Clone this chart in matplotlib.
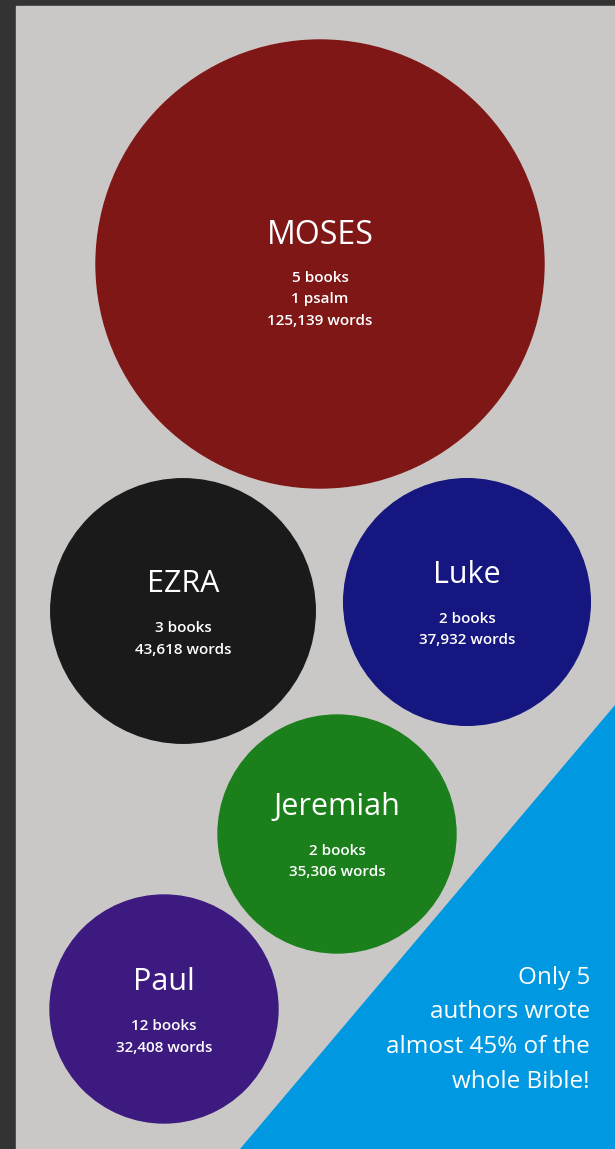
import numpy as np
import matplotlib.pyplot as plt
from matplotlib.patches import Circle, Rectangle, Polygon

plt.rcParams['font.family'] = ['Open Sans', 'DejaVu Sans']

# data
authors = ['MOSES', 'EZRA', 'Luke', 'Jeremiah', 'Paul']
details = [['5 books', '1 psalm'], ['3 books'], ['2 books'], ['2 books'], ['12 books']]
words = [125139, 43618, 37932, 35306, 32408]
colors = ['#7f1716', '#1a1a1a', '#151680', '#1b7f1b', '#3d1a80']
note = ['Only 5', 'authors wrote', 'almost 45% of the', 'whole Bible!']

# layout (pixel coords, y down)
centers = [(320, 264), (183, 611), (467, 602), (337, 834), (164, 1009)]
W, H = 615, 1149
scale = 224 / np.sqrt(words[0])  # circle area ~ word count

fig = plt.figure(figsize=(W / 100, H / 100), dpi=100, facecolor='#333333')
ax = fig.add_axes([0, 0, 1, 1])
ax.set_xlim(0, W)
ax.set_ylim(H, 0)
ax.set_aspect('equal')
ax.axis('off')

ax.add_patch(Rectangle((16, 6), W - 16, H - 6, color='#c9c8c6', zorder=0))
ax.add_patch(Polygon([(W, 705), (W, H), (240, H)], closed=True,
                     color='#0099e1', zorder=1))

for name, det, w, col, (cx, cy) in zip(authors, details, words, colors, centers):
    r = scale * np.sqrt(w)
    ax.add_patch(Circle((cx, cy), r, color=col, zorder=2))
    lines = det + [f'{w:,} words']
    n = len(lines)
    title_y = cy - 28 if n == 3 else cy - 27
    first = cy + 14 if n == 3 else cy + 17
    size = 23 if name == 'MOSES' else 22
    ax.text(cx, title_y, name, color='white', fontsize=size,
            ha='center', va='center', zorder=3)
    for i, ln in enumerate(lines):
        ax.text(cx, first + 21.5 * i, ln, color='white', fontsize=11,
                fontweight='semibold', ha='center', va='center', zorder=3)

for i, ln in enumerate(note):
    ax.text(590, 978 + 34.5 * i, ln, color='white', fontsize=17.5,
            ha='right', va='center', zorder=3)

fig.savefig('out.png', dpi=100, facecolor=fig.get_facecolor())
